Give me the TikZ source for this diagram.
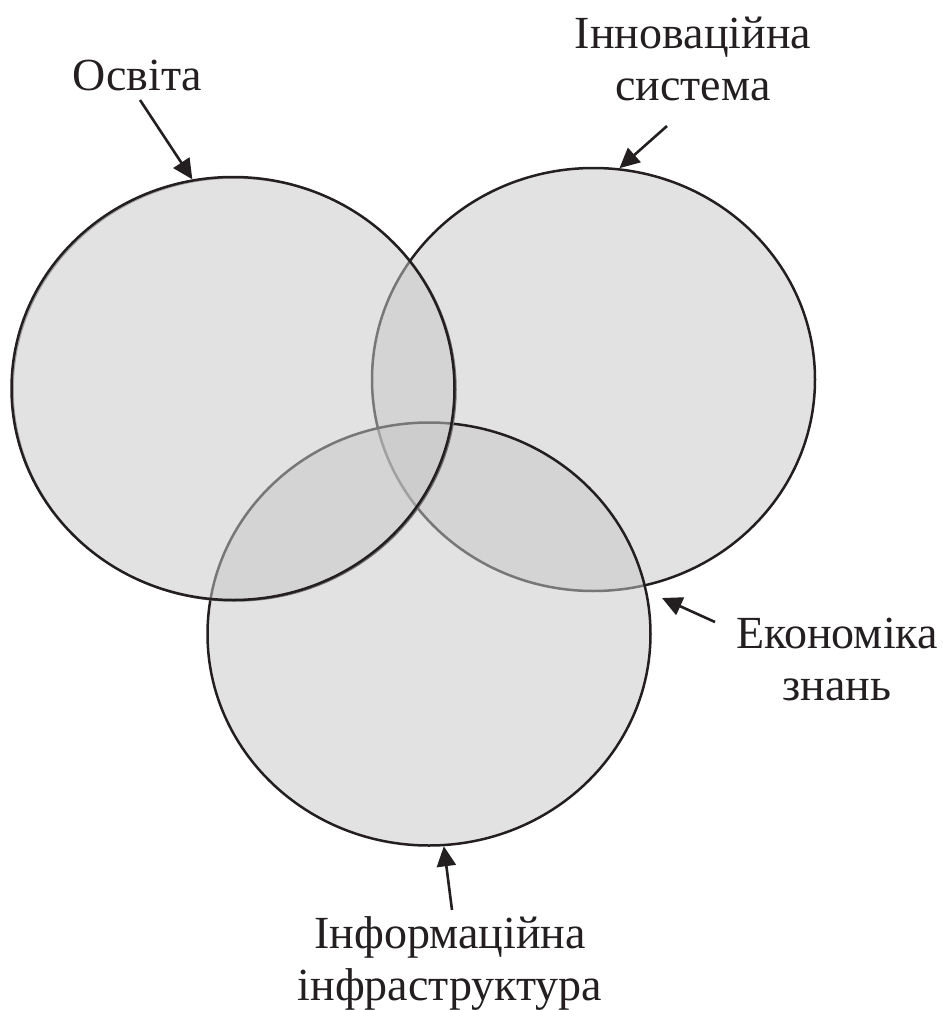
\documentclass[tikz,border=0pt]{standalone}
\usepackage{fontspec}
\setmainfont{Liberation Serif}
\usetikzlibrary{arrows.meta,shapes.geometric}
\definecolor{lineblk}{HTML}{231F20}
\tikzset{
  venn/.style={ellipse, draw=lineblk, line width=2.5pt, fill=black!22, fill opacity=0.52,
    minimum width=443pt, minimum height=423pt, inner sep=0pt},
  lbl/.style={font=\fontsize{46}{52}\selectfont, align=center, anchor=base, inner sep=0pt, text=lineblk},
  pointer/.style={draw=lineblk, line width=2.6pt, -{Triangle[length=20pt,width=19pt]}}
}
\begin{document}
\begin{tikzpicture}[x=1pt,y=-1pt]
\path[use as bounding box] (0,0) rectangle (943,1010);
% circles: right, bottom, left (top-most)
\node[venn] (innov) at (593.5,379.5) {};
\node[venn] (info) at (429,634) {};
\draw[draw=black!55, line width=1.5pt] (234.5,389.5) ellipse [x radius=221.5pt, y radius=211.5pt];
\node[venn] (osv) at (233,388.5) {};
% labels (anchor = baseline of last line)
\node[lbl] (tOsv) at (137.5,90) {Освіта};
\node[lbl] (tInnov) at (693,100) {Інноваційна\\система};
\node[lbl] (tEcon) at (837,700) {Економіка\\знань};
\node[lbl] (tInfo) at (450,1000) {Інформаційна\\інфраструктура};
% arrow tails and free tip
\coordinate (sOsv) at (140,100);
\coordinate (sInnov) at (667,126);
\coordinate (sEcon) at (715,622);
\coordinate (sInfo) at (452,910);
\coordinate (econTip) at (662,598);
\draw[pointer] (sOsv) -- (osv.101.5);
\draw[pointer] (sInnov) -- (innov.83.4);
\draw[pointer] (sEcon) -- (econTip);
\draw[pointer] (sInfo) -- (info.-86.4);
\end{tikzpicture}
\end{document}
